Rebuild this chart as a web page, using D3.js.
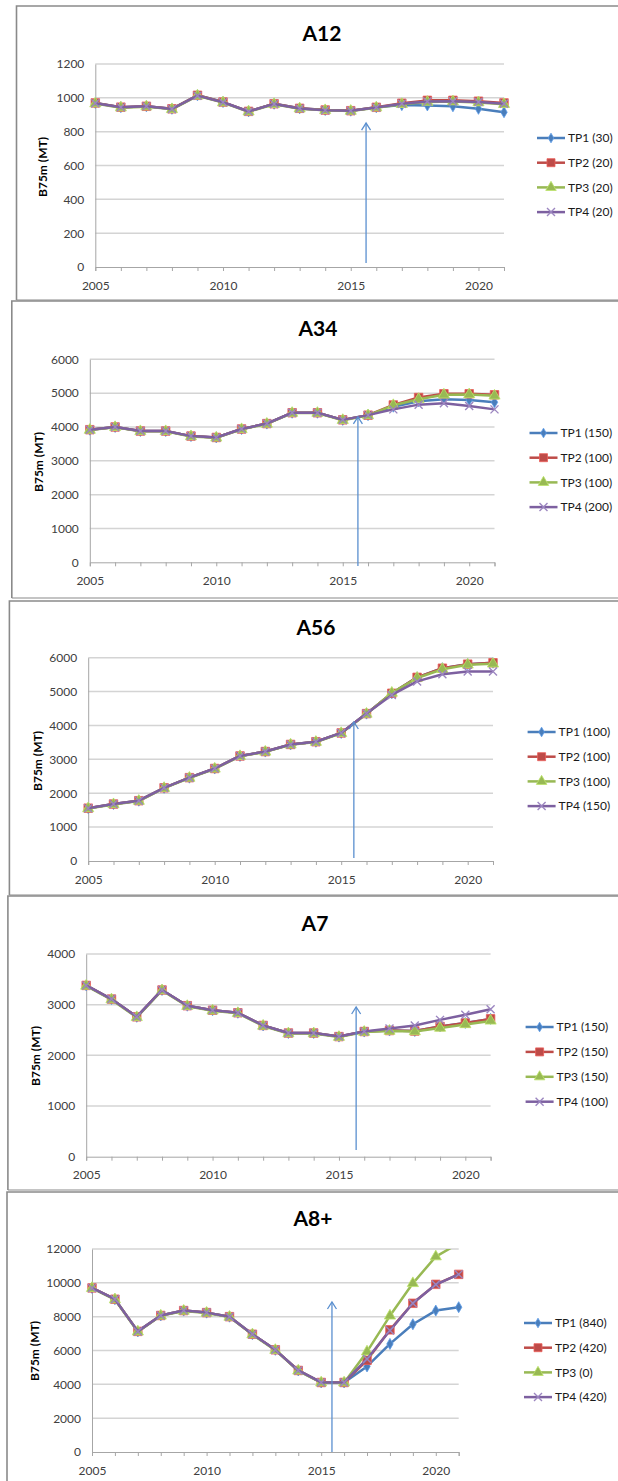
<!DOCTYPE html>
<html><head><meta charset="utf-8">
<script src="https://cdn.jsdelivr.net/npm/d3@7"></script>
<style>
html,body{margin:0;padding:0;background:#fff;}
svg{display:block;font-family:Lato,"Liberation Sans",sans-serif;}
</style></head>
<body>
<svg id="chart" width="618" height="1481"></svg>
<script>
// ---------------- DATA ----------------
const years = [2005,2006,2007,2008,2009,2010,2011,2012,2013,2014,2015,2016,2017,2018,2019,2020,2021];
const seriesNames = ["TP1","TP2","TP3","TP4"];
const seriesColors = ["#4a7ebb","#be4b48","#98b954","#7d60a0"];

const a12Title = "A12";
const a12Legend = ["TP1 (30)","TP2 (20)","TP3 (20)","TP4 (20)"];
const a12Ticks = [0,200,400,600,800,1000,1200];
const a12_tp1 = [970,945,950,935,1015,975,920,965,938,928,924,944,957,955,950,935,915];
const a12_tp2 = [970,945,950,935,1015,975,920,965,938,928,924,944,968,985,985,980,970];
const a12_tp3 = [966,942,948,932,1012,972,918,962,936,926,922,942,962,975,978,972,962];
const a12_tp4 = [968,944,950,934,1013,974,919,964,937,927,923,943,965,978,980,975,965];
const a12Arrow = [2015.6, 24, 851];

const a34Title = "A34";
const a34Legend = ["TP1 (150)","TP2 (100)","TP3 (100)","TP4 (200)"];
const a34Ticks = [0,1000,2000,3000,4000,5000,6000];
const a34_tp1 = [3920,4000,3880,3880,3730,3690,3940,4100,4420,4420,4210,4350,4600,4760,4820,4800,4730];
const a34_tp2 = [3920,4000,3880,3880,3730,3690,3940,4100,4420,4420,4210,4350,4650,4870,4980,4980,4950];
const a34_tp3 = [3910,3990,3870,3870,3720,3680,3930,4090,4410,4410,4200,4340,4640,4820,4950,4960,4920];
const a34_tp4 = [3920,4000,3880,3880,3730,3690,3940,4100,4420,4420,4210,4350,4520,4660,4700,4620,4520];
const a34Arrow = [2015.6, -109, 4297];

const a56Title = "A56";
const a56Legend = ["TP1 (100)","TP2 (100)","TP3 (100)","TP4 (150)"];
const a56Ticks = [0,1000,2000,3000,4000,5000,6000];
const a56_tp1 = [1560,1680,1780,2160,2460,2730,3100,3230,3440,3520,3780,4350,4950,5420,5690,5810,5850];
const a56_tp2 = [1560,1680,1780,2160,2460,2730,3100,3230,3440,3520,3780,4350,4950,5420,5690,5810,5850];
const a56_tp3 = [1550,1670,1770,2150,2450,2720,3090,3220,3430,3510,3770,4340,4960,5400,5660,5790,5820];
const a56_tp4 = [1560,1680,1780,2160,2460,2730,3100,3230,3440,3520,3780,4350,4900,5300,5510,5590,5590];
const a56Arrow = [2015.5, 89, 4102];

const a7Title = "A7";
const a7Legend = ["TP1 (150)","TP2 (150)","TP3 (150)","TP4 (100)"];
const a7Ticks = [0,1000,2000,3000,4000];
const a7_tp1 = [3380,3110,2760,3290,2980,2890,2840,2590,2440,2440,2370,2470,2490,2480,2570,2640,2720];
const a7_tp2 = [3380,3110,2760,3290,2980,2890,2840,2590,2440,2440,2370,2470,2490,2480,2570,2640,2720];
const a7_tp3 = [3370,3100,2750,3280,2970,2880,2830,2580,2430,2430,2360,2460,2480,2470,2540,2610,2680];
const a7_tp4 = [3380,3110,2760,3290,2980,2890,2840,2590,2440,2440,2370,2470,2530,2590,2700,2800,2910];
const a7Arrow = [2015.68, 132, 2954];

const a8Title = "A8+";
const a8Legend = ["TP1 (840)","TP2 (420)","TP3 (0)","TP4 (420)"];
const a8Ticks = [0,2000,4000,6000,8000,10000,12000];
const a8_tp1 = [9700,9030,7130,8070,8360,8240,8000,6960,6040,4820,4110,4110,5060,6390,7550,8360,8560];
const a8_tp2 = [9700,9030,7130,8070,8360,8240,8000,6960,6040,4820,4110,4110,5420,7220,8790,9910,10500];
const a8_tp3 = [9680,9010,7110,8050,8340,8220,7980,6940,6020,4800,4100,4100,5930,8050,9970,11550,12330];
const a8_tp4 = [9700,9030,7130,8070,8360,8240,8000,6960,6040,4820,4110,4110,5500,7180,8790,9900,10500];
const a8Arrow = [2015.47, 0, 8866];

const yLabel = "B75m (MT)";

// ---------------- LAYOUT ----------------
const panels = [
  {title:a12Title, legend:a12Legend, ticks:a12Ticks, data:[a12_tp1,a12_tp2,a12_tp3,a12_tp4], arrow:a12Arrow,
   box:[16.5,6,300], plot:[95.3,504,64,267], titleXY:[322,33], ylab:[43,167], leg:[537,138,24.7], xlabY:285},
  {title:a34Title, legend:a34Legend, ticks:a34Ticks, data:[a34_tp1,a34_tp2,a34_tp3,a34_tp4], arrow:a34Arrow,
   box:[11.8,301,598], plot:[89.8,494.5,359.3,562.3], titleXY:[318,328], ylab:[39,462], leg:[529.5,433,24.7], xlabY:581},
  {title:a56Title, legend:a56Legend, ticks:a56Ticks, data:[a56_tp1,a56_tp2,a56_tp3,a56_tp4], arrow:a56Arrow,
   box:[9.4,601,895], plot:[88.2,493,657.7,861], titleXY:[316,627], ylab:[37.4,761], leg:[527.6,732,24.7], xlabY:879},
  {title:a7Title, legend:a7Legend, ticks:a7Ticks, data:[a7_tp1,a7_tp2,a7_tp3,a7_tp4], arrow:a7Arrow,
   box:[7.9,896,1190], plot:[86.2,490.6,954,1156.7], titleXY:[315,923], ylab:[35.4,1056], leg:[525.6,1027,24.9], xlabY:1175},
  {title:a8Title, legend:a8Legend, ticks:a8Ticks, data:[a8_tp1,a8_tp2,a8_tp3,a8_tp4], arrow:a8Arrow,
   box:[7,1192,1500], plot:[92,458.7,1249,1452], titleXY:[313,1218], ylab:[34.6,1351], leg:[524,1323,24.7], xlabY:1470}
];

const svg = d3.select("#chart");
const defs = svg.append("defs");

function markerPath(i, s){
  if(i===0) return d3.symbol().type(d3.symbolDiamond).size(s*s*0.55)();
  if(i===1) return d3.symbol().type(d3.symbolSquare).size(s*s)();
  if(i===2) return d3.symbol().type(d3.symbolTriangle).size(s*s*0.75)();
  return d3.symbol().type(d3.symbolCross).size(1)();
}
function drawMarker(g, i, x, y, s){
  const c = seriesColors[i];
  if(i===3){
    const h = s/2;
    g.append("path").attr("d",`M${x-h},${y-h}L${x+h},${y+h}M${x-h},${y+h}L${x+h},${y-h}`)
      .attr("stroke","#9c86c0").attr("stroke-width",1.4).attr("fill","none");
  } else {
    g.append("path").attr("d",markerPath(i,s)).attr("transform",`translate(${x},${y})`)
      .attr("fill",c).attr("stroke",d3.color(c).brighter(0.6)).attr("stroke-width",0.8);
  }
}

panels.forEach((p,pi)=>{
  const g = svg.append("g");
  const [bx,by,bb] = p.box;
  g.append("path").attr("d",`M620,${by}H${bx}V${bb}`).attr("fill","none")
    .attr("stroke","#8a8a8a").attr("stroke-width",1.6);
  if(pi<4) g.append("line").attr("x1",bx).attr("x2",620).attr("y1",bb).attr("y2",bb)
    .attr("stroke","#8a8a8a").attr("stroke-width",1.2);

  const [x0,x1,yT,yB] = p.plot;
  const x = d3.scaleLinear().domain([years[0],years[years.length-1]]).range([x0,x1]);
  const y = d3.scaleLinear().domain([p.ticks[0],p.ticks[p.ticks.length-1]]).range([yB,yT]);

  // gridlines
  g.append("g").selectAll("line").data(p.ticks.slice(1)).join("line")
    .attr("x1",x0).attr("x2",x1).attr("y1",d=>y(d)).attr("y2",d=>y(d))
    .attr("stroke","#d4d4d4").attr("stroke-width",1.5);

  // y axis
  const ya = g.append("g").attr("transform",`translate(${x0},0)`)
    .call(d3.axisLeft(y).tickValues(p.ticks).tickSize(0).tickPadding(11).tickFormat(d3.format("d")));
  ya.select(".domain").attr("stroke","#a6a6a6").attr("stroke-width",1);
  ya.selectAll("text").attr("font-size",12).attr("fill","#404040").attr("font-family","Lato");

  // x axis
  const xa = g.append("g").attr("transform",`translate(0,${yB})`)
    .call(d3.axisBottom(x).tickValues(years).tickSize(4).tickPadding(10)
      .tickFormat(d=> d%5===0 ? String(d) : ""));
  xa.select(".domain").attr("stroke","#a6a6a6").attr("stroke-width",1);
  xa.selectAll(".tick line").attr("stroke","#a6a6a6");
  xa.selectAll("text").attr("font-size",12).attr("fill","#404040").attr("font-family","Lato");

  // title
  g.append("text").attr("x",p.titleXY[0]).attr("y",p.titleXY[1]).attr("dy","0.36em")
    .attr("text-anchor","middle").attr("font-size",21).attr("font-weight","bold")
    .attr("fill","#000").text(p.title);
  // y label
  g.append("text").attr("transform",`translate(${p.ylab[0]},${p.ylab[1]}) rotate(-90)`)
    .attr("dy","0.36em").attr("text-anchor","middle").attr("font-size",12).attr("font-weight","bold")
    .attr("fill","#000").text(yLabel);

  // clip
  const cid = "clip"+pi;
  defs.append("clipPath").attr("id",cid).append("rect")
    .attr("x",x0-8).attr("y",yT).attr("width",x1-x0+16).attr("height",yB-yT+8);

  const sg = g.append("g").attr("clip-path",`url(#${cid})`);
  const line = d3.line().x((d,i)=>x(years[i])).y(d=>y(d));
  p.data.forEach((arr,si)=>{
    sg.append("path").datum(arr).attr("d",line).attr("fill","none")
      .attr("stroke",seriesColors[si]).attr("stroke-width",2.5).attr("stroke-linejoin","round");
    arr.forEach((v,i)=>{ if(v<=p.ticks[p.ticks.length-1]) drawMarker(sg, si, x(years[i]), y(v), si===0?8:(si===3?8:8.5)); });
  });

  // arrow
  const [ax, ay0, ay1] = p.arrow;
  const axp = x(ax), ya0 = y(ay0), ya1 = y(ay1);
  g.append("line").attr("x1",axp).attr("x2",axp).attr("y1",ya0).attr("y2",ya1)
    .attr("stroke","#5a8fcf").attr("stroke-width",1.3);
  g.append("path").attr("d",`M${axp-4.5},${ya1+7}L${axp},${ya1}L${axp+4.5},${ya1+7}`)
    .attr("fill","none").attr("stroke","#5a8fcf").attr("stroke-width",1.3);

  // legend
  const [lx, ly, ls] = p.leg;
  p.legend.forEach((t,i)=>{
    const yy = ly + i*ls;
    g.append("line").attr("x1",lx).attr("x2",lx+28).attr("y1",yy).attr("y2",yy)
      .attr("stroke",seriesColors[i]).attr("stroke-width",2.5);
    drawMarker(g, i, lx+14, yy, i===0?7:8);
    g.append("text").attr("x",lx+31).attr("y",yy).attr("dy","0.36em")
      .attr("font-size",12).attr("fill","#1a1a1a").text(t);
  });
});
</script>
</body></html>
